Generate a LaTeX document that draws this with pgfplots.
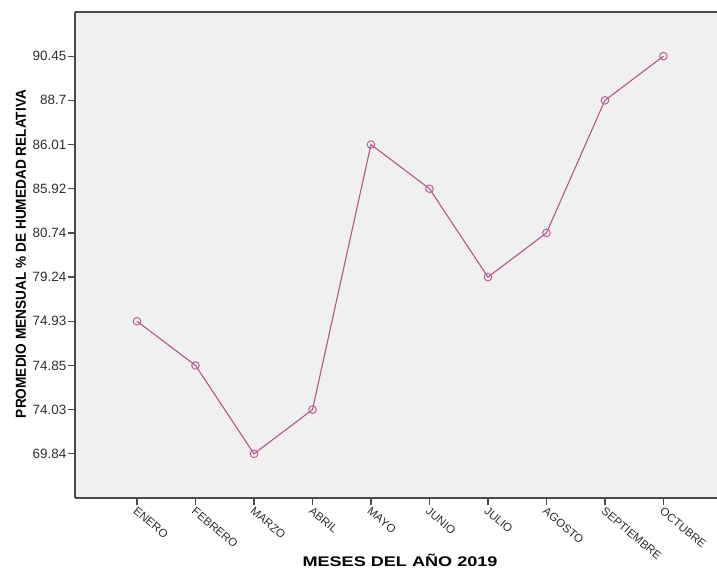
\documentclass[border=0pt]{standalone}
\usepackage{pgfplots}
\pgfplotsset{compat=1.18}
\usepackage{pgfplotstable}
\usepackage{graphicx}
\usepackage{fontspec}
\setmainfont{Liberation Sans}
\definecolor{bgc}{HTML}{F0F0F0}
\definecolor{linec}{HTML}{B5558E}
\definecolor{axc}{HTML}{4A4A4A}
\definecolor{txc}{HTML}{2E2E2E}
% month index, category position on the y axis, monthly mean relative humidity (%)
\pgfplotstableread{
m pos value
1 4  74.93
2 3  74.85
3 1  69.84
4 2  74.03
5 8  86.01
6 7  85.92
7 5  79.24
8 6  80.74
9 9  88.70
10 10 90.45
}\humedad
\begin{document}
\begin{tikzpicture}
\useasboundingbox (0,0) rectangle (717bp,569bp);
\begin{axis}[
  at={(75bp,71bp)}, anchor=south west,
  scale only axis, width=644bp, height=486bp,
  xmin=-0.06, xmax=10.95, ymin=0, ymax=11,
  axis background/.style={fill=bgc},
  axis line style={axc, line width=1.4bp},
  separate axis lines,
  x axis line style={-}, y axis line style={-},
  xtick={1,...,10},
  xticklabels={ENERO,FEBRERO,MARZO,ABRIL,MAYO,JUNIO,JULIO,AGOSTO,SEPTIEMBRE,OCTUBRE},
  ytick={1,...,10},
  yticklabels={69.84,74.03,74.85,74.93,79.24,80.74,85.92,86.01,88.7,90.45},
  tick align=outside, tick pos=left,
  major tick length=7bp,
  tick style={axc, line width=1.2bp},
  /pgf/number format/assume math mode=true,
  yticklabel style={font=\fontsize{13.5}{13.5}\selectfont, text=txc, inner sep=1.5bp},
  xticklabel style={font=\fontsize{11.5}{11.5}\selectfont, text=txc, rotate=-40, anchor=north west, inner sep=0.5bp, xshift=1bp},
  clip=false,
]
\addplot[linec, line width=1.1bp, mark=o, mark size=3.8bp, mark options={linec, line width=0.9bp}] table[x=m, y=pos] {\humedad};
\end{axis}
\node[text=black, inner sep=0pt, anchor=base] at (400bp,3bp) {\resizebox{195bp}{\height}{\fontsize{14}{14}\selectfont\bfseries MESES DEL AÑO 2019}};
\node[rotate=90, text=black] at (21bp,315bp) {\resizebox{328bp}{\height}{\fontsize{14.5}{14.5}\selectfont\bfseries PROMEDIO MENSUAL \% DE HUMEDAD RELATIVA}};
\end{tikzpicture}
\end{document}
